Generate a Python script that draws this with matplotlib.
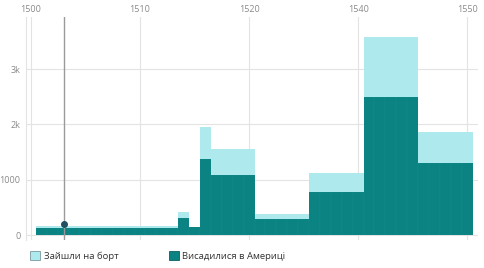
import numpy as np
import matplotlib
matplotlib.use("Agg")
import matplotlib.pyplot as plt
from matplotlib.patches import Patch

plt.rcParams['font.family'] = ['Open Sans', 'DejaVu Sans']

# Дані
years = list(range(1501, 1541))
embarked = [168] * 13 + [420, 145, 1958] + [1550] * 4 + [380] * 5 + [1127] * 5 + [3575] * 5 + [1863] * 5
disembarked = [120] * 13 + [313, 140, 1369] + [1085] * 4 + [284] * 5 + [783] * 5 + [2490] * 5 + [1297] * 5
tick_years = [1500, 1510, 1520, 1530, 1540]
tick_labels = ["1500", "1510", "1520", "1540", "1550"]
y_ticks = [0, 1000, 2000, 3000]
y_labels = ["0", "1000", "2k", "3k"]
hover_year = 1503
hover_value = 200

light = "#aee9ee"
dark = "#0b8383"

fig = plt.figure(figsize=(4.85, 2.68), dpi=100)
ax = fig.add_axes([0.0536, 0.1045, 0.932, 0.832])

ax.bar(years, embarked, width=1.0, color=light, edgecolor=(1, 1, 1, 0.05), linewidth=0.3, zorder=2)
ax.bar(years, disembarked, width=1.0, color=dark, edgecolor=(1, 1, 1, 0.05), linewidth=0.3, zorder=3)

ax.axvline(hover_year, color="#9a9a9a", linewidth=1.0, zorder=4)
ax.plot([hover_year], [hover_value], "o", color="#1f4f60", markersize=4, zorder=5)

ax.set_xlim(1499.54, 1541.0)
ax.set_ylim(-90, 3942)

ax.set_xticks(tick_years)
ax.set_xticklabels(tick_labels)
ax.set_yticks(y_ticks)
ax.set_yticklabels(y_labels)
ax.xaxis.tick_top()
ax.tick_params(axis="both", length=0, labelsize=6.5, labelcolor="#8a8a8a")
ax.tick_params(axis="x", pad=2)
ax.tick_params(axis="y", pad=4)

ax.grid(True, color="#e3e3e3", linewidth=0.8, zorder=0)
ax.set_axisbelow(True)
for side in ["top", "right", "bottom"]:
    ax.spines[side].set_visible(False)
ax.spines["left"].set_color("#e3e3e3")
ax.spines["left"].set_linewidth(0.8)

handles = [Patch(facecolor=light, edgecolor="#7a9aa0", linewidth=0.6),
           Patch(facecolor=dark, edgecolor="#0a5f5f", linewidth=0.6)]
fig.legend(handles, ["Зайшли на борт", "Висадилися в Америці"],
           loc="lower left", bbox_to_anchor=(0.045, -0.005), ncol=2, frameon=False,
           fontsize=6.8, handlelength=1.0, handleheight=1.0, handletextpad=0.4,
           columnspacing=5.4, labelcolor="#333333")

fig.savefig("out.png", dpi=100)
